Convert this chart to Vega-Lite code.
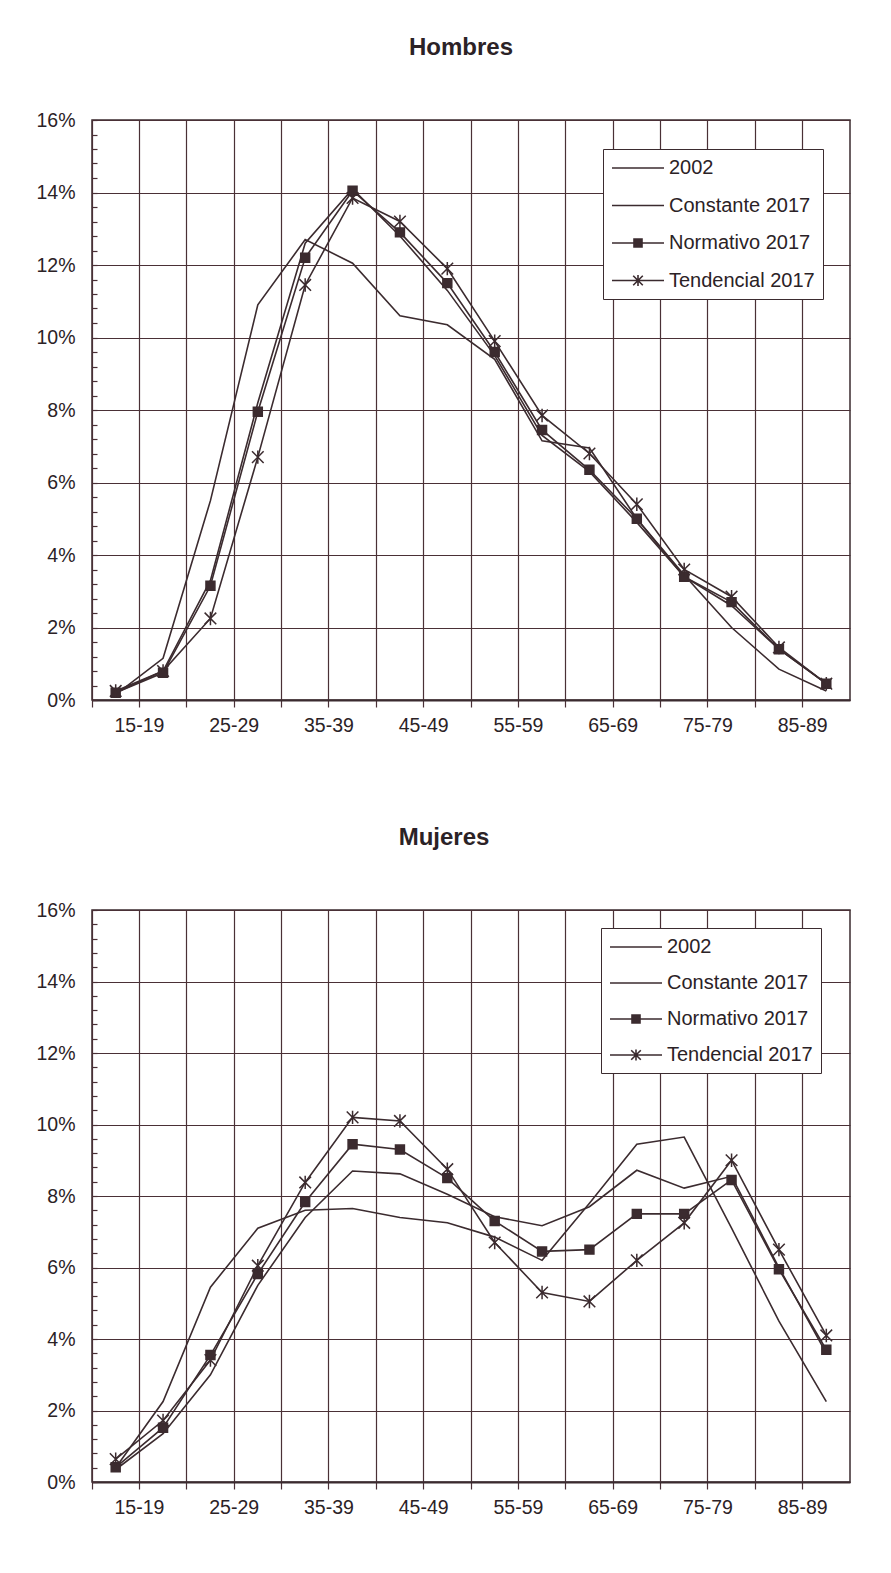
{
  "$schema": "https://vega.github.io/schema/vega-lite/v6.json",
  "background": "white",
  "padding": {"left": 35, "top": 35, "right": 10, "bottom": 10},
  "config": {
    "font": "Liberation Sans",
    "view": {"stroke": "#3b2b2f", "strokeWidth": 1.5},
    "axis": {"labelFont": "Liberation Sans", "labelFontSize": 19.5, "labelColor": "#2b2226", "title": null}
  },
  "data": {"values": [
    {"panel":"H","age":"15-19","series":"2002","pct":0.15},
    {"panel":"H","age":"20-24","series":"2002","pct":1.15},
    {"panel":"H","age":"25-29","series":"2002","pct":5.5},
    {"panel":"H","age":"30-34","series":"2002","pct":10.9},
    {"panel":"H","age":"35-39","series":"2002","pct":12.7},
    {"panel":"H","age":"40-44","series":"2002","pct":12.05},
    {"panel":"H","age":"45-49","series":"2002","pct":10.6},
    {"panel":"H","age":"50-54","series":"2002","pct":10.35},
    {"panel":"H","age":"55-59","series":"2002","pct":9.4},
    {"panel":"H","age":"60-64","series":"2002","pct":7.15},
    {"panel":"H","age":"65-69","series":"2002","pct":6.95},
    {"panel":"H","age":"70-74","series":"2002","pct":5.0},
    {"panel":"H","age":"75-79","series":"2002","pct":3.45},
    {"panel":"H","age":"80-84","series":"2002","pct":2.0},
    {"panel":"H","age":"85-89","series":"2002","pct":0.85},
    {"panel":"H","age":"90-94","series":"2002","pct":0.25},
    {"panel":"H","age":"15-19","series":"Constante 2017","pct":0.2},
    {"panel":"H","age":"20-24","series":"Constante 2017","pct":0.8},
    {"panel":"H","age":"25-29","series":"Constante 2017","pct":3.3},
    {"panel":"H","age":"30-34","series":"Constante 2017","pct":8.2},
    {"panel":"H","age":"35-39","series":"Constante 2017","pct":12.6},
    {"panel":"H","age":"40-44","series":"Constante 2017","pct":14.1},
    {"panel":"H","age":"45-49","series":"Constante 2017","pct":12.8},
    {"panel":"H","age":"50-54","series":"Constante 2017","pct":11.3},
    {"panel":"H","age":"55-59","series":"Constante 2017","pct":9.5},
    {"panel":"H","age":"60-64","series":"Constante 2017","pct":7.3},
    {"panel":"H","age":"65-69","series":"Constante 2017","pct":6.3},
    {"panel":"H","age":"70-74","series":"Constante 2017","pct":4.9},
    {"panel":"H","age":"75-79","series":"Constante 2017","pct":3.4},
    {"panel":"H","age":"80-84","series":"Constante 2017","pct":2.6},
    {"panel":"H","age":"85-89","series":"Constante 2017","pct":1.4},
    {"panel":"H","age":"90-94","series":"Constante 2017","pct":0.45},
    {"panel":"H","age":"15-19","series":"Normativo 2017","pct":0.2},
    {"panel":"H","age":"20-24","series":"Normativo 2017","pct":0.75},
    {"panel":"H","age":"25-29","series":"Normativo 2017","pct":3.15},
    {"panel":"H","age":"30-34","series":"Normativo 2017","pct":7.95},
    {"panel":"H","age":"35-39","series":"Normativo 2017","pct":12.2},
    {"panel":"H","age":"40-44","series":"Normativo 2017","pct":14.05},
    {"panel":"H","age":"45-49","series":"Normativo 2017","pct":12.9},
    {"panel":"H","age":"50-54","series":"Normativo 2017","pct":11.5},
    {"panel":"H","age":"55-59","series":"Normativo 2017","pct":9.6},
    {"panel":"H","age":"60-64","series":"Normativo 2017","pct":7.45},
    {"panel":"H","age":"65-69","series":"Normativo 2017","pct":6.35},
    {"panel":"H","age":"70-74","series":"Normativo 2017","pct":5.0},
    {"panel":"H","age":"75-79","series":"Normativo 2017","pct":3.4},
    {"panel":"H","age":"80-84","series":"Normativo 2017","pct":2.7},
    {"panel":"H","age":"85-89","series":"Normativo 2017","pct":1.4},
    {"panel":"H","age":"90-94","series":"Normativo 2017","pct":0.45},
    {"panel":"H","age":"15-19","series":"Tendencial 2017","pct":0.25},
    {"panel":"H","age":"20-24","series":"Tendencial 2017","pct":0.8},
    {"panel":"H","age":"25-29","series":"Tendencial 2017","pct":2.25},
    {"panel":"H","age":"30-34","series":"Tendencial 2017","pct":6.7},
    {"panel":"H","age":"35-39","series":"Tendencial 2017","pct":11.45},
    {"panel":"H","age":"40-44","series":"Tendencial 2017","pct":13.85},
    {"panel":"H","age":"45-49","series":"Tendencial 2017","pct":13.2},
    {"panel":"H","age":"50-54","series":"Tendencial 2017","pct":11.9},
    {"panel":"H","age":"55-59","series":"Tendencial 2017","pct":9.9},
    {"panel":"H","age":"60-64","series":"Tendencial 2017","pct":7.85},
    {"panel":"H","age":"65-69","series":"Tendencial 2017","pct":6.8},
    {"panel":"H","age":"70-74","series":"Tendencial 2017","pct":5.4},
    {"panel":"H","age":"75-79","series":"Tendencial 2017","pct":3.6},
    {"panel":"H","age":"80-84","series":"Tendencial 2017","pct":2.85},
    {"panel":"H","age":"85-89","series":"Tendencial 2017","pct":1.45},
    {"panel":"H","age":"90-94","series":"Tendencial 2017","pct":0.45},
    {"panel":"M","age":"15-19","series":"2002","pct":0.4},
    {"panel":"M","age":"20-24","series":"2002","pct":2.25},
    {"panel":"M","age":"25-29","series":"2002","pct":5.45},
    {"panel":"M","age":"30-34","series":"2002","pct":7.1},
    {"panel":"M","age":"35-39","series":"2002","pct":7.6},
    {"panel":"M","age":"40-44","series":"2002","pct":7.65},
    {"panel":"M","age":"45-49","series":"2002","pct":7.4},
    {"panel":"M","age":"50-54","series":"2002","pct":7.25},
    {"panel":"M","age":"55-59","series":"2002","pct":6.85},
    {"panel":"M","age":"60-64","series":"2002","pct":6.2},
    {"panel":"M","age":"65-69","series":"2002","pct":7.8},
    {"panel":"M","age":"70-74","series":"2002","pct":9.45},
    {"panel":"M","age":"75-79","series":"2002","pct":9.65},
    {"panel":"M","age":"80-84","series":"2002","pct":7.1},
    {"panel":"M","age":"85-89","series":"2002","pct":4.5},
    {"panel":"M","age":"90-94","series":"2002","pct":2.25},
    {"panel":"M","age":"15-19","series":"Constante 2017","pct":0.35},
    {"panel":"M","age":"20-24","series":"Constante 2017","pct":1.35},
    {"panel":"M","age":"25-29","series":"Constante 2017","pct":3.0},
    {"panel":"M","age":"30-34","series":"Constante 2017","pct":5.5},
    {"panel":"M","age":"35-39","series":"Constante 2017","pct":7.4},
    {"panel":"M","age":"40-44","series":"Constante 2017","pct":8.7},
    {"panel":"M","age":"45-49","series":"Constante 2017","pct":8.62},
    {"panel":"M","age":"50-54","series":"Constante 2017","pct":8.05},
    {"panel":"M","age":"55-59","series":"Constante 2017","pct":7.42},
    {"panel":"M","age":"60-64","series":"Constante 2017","pct":7.17},
    {"panel":"M","age":"65-69","series":"Constante 2017","pct":7.7},
    {"panel":"M","age":"70-74","series":"Constante 2017","pct":8.72},
    {"panel":"M","age":"75-79","series":"Constante 2017","pct":8.22},
    {"panel":"M","age":"80-84","series":"Constante 2017","pct":8.55},
    {"panel":"M","age":"85-89","series":"Constante 2017","pct":6.0},
    {"panel":"M","age":"90-94","series":"Constante 2017","pct":3.6},
    {"panel":"M","age":"15-19","series":"Normativo 2017","pct":0.41},
    {"panel":"M","age":"20-24","series":"Normativo 2017","pct":1.52},
    {"panel":"M","age":"25-29","series":"Normativo 2017","pct":3.55},
    {"panel":"M","age":"30-34","series":"Normativo 2017","pct":5.82},
    {"panel":"M","age":"35-39","series":"Normativo 2017","pct":7.83},
    {"panel":"M","age":"40-44","series":"Normativo 2017","pct":9.45},
    {"panel":"M","age":"45-49","series":"Normativo 2017","pct":9.3},
    {"panel":"M","age":"50-54","series":"Normativo 2017","pct":8.5},
    {"panel":"M","age":"55-59","series":"Normativo 2017","pct":7.3},
    {"panel":"M","age":"60-64","series":"Normativo 2017","pct":6.45},
    {"panel":"M","age":"65-69","series":"Normativo 2017","pct":6.5},
    {"panel":"M","age":"70-74","series":"Normativo 2017","pct":7.5},
    {"panel":"M","age":"75-79","series":"Normativo 2017","pct":7.5},
    {"panel":"M","age":"80-84","series":"Normativo 2017","pct":8.45},
    {"panel":"M","age":"85-89","series":"Normativo 2017","pct":5.95},
    {"panel":"M","age":"90-94","series":"Normativo 2017","pct":3.7},
    {"panel":"M","age":"15-19","series":"Tendencial 2017","pct":0.64},
    {"panel":"M","age":"20-24","series":"Tendencial 2017","pct":1.72},
    {"panel":"M","age":"25-29","series":"Tendencial 2017","pct":3.41},
    {"panel":"M","age":"30-34","series":"Tendencial 2017","pct":6.05},
    {"panel":"M","age":"35-39","series":"Tendencial 2017","pct":8.38},
    {"panel":"M","age":"40-44","series":"Tendencial 2017","pct":10.2},
    {"panel":"M","age":"45-49","series":"Tendencial 2017","pct":10.1},
    {"panel":"M","age":"50-54","series":"Tendencial 2017","pct":8.75},
    {"panel":"M","age":"55-59","series":"Tendencial 2017","pct":6.7},
    {"panel":"M","age":"60-64","series":"Tendencial 2017","pct":5.3},
    {"panel":"M","age":"65-69","series":"Tendencial 2017","pct":5.05},
    {"panel":"M","age":"70-74","series":"Tendencial 2017","pct":6.2},
    {"panel":"M","age":"75-79","series":"Tendencial 2017","pct":7.25},
    {"panel":"M","age":"80-84","series":"Tendencial 2017","pct":9.0},
    {"panel":"M","age":"85-89","series":"Tendencial 2017","pct":6.5},
    {"panel":"M","age":"90-94","series":"Tendencial 2017","pct":4.1}
  ]},
  "spacing": 89,
  "vconcat": [
    {
      "width": 758,
      "height": 580,
      "title": {"text": "Hombres", "fontSize": 24, "fontWeight": "bold", "font": "Liberation Sans", "color": "#2b2226", "offset": 50, "dx": -10},
      "transform": [{"filter": "datum.panel === 'H'"}],
      "encoding": {
        "x": {
          "field": "age", "type": "nominal", "bandPosition": 0.5,
          "scale": {"type": "band", "paddingInner": 0, "paddingOuter": 0, "domain": ["15-19","20-24","25-29","30-34","35-39","40-44","45-49","50-54","55-59","60-64","65-69","70-74","75-79","80-84","85-89","90-94"]},
          "axis": {"bandPosition": 0, "grid": true, "gridColor": "#4a3036", "gridOpacity": 1, "gridWidth": 1.2, "ticks": true, "tickSize": 7, "tickColor": "#4a3036", "tickWidth": 1.2, "domainColor": "#3b2b2f", "domainWidth": 2, "labelAngle": 0, "labelOffset": 23.7, "labelPadding": 9, "labelBound": false, "labelOverlap": false, "labelExpr": "toNumber(slice(datum.label,0,2)) % 10 === 5 ? datum.label : ''"}
        },
        "y": {
          "field": "pct", "type": "quantitative",
          "scale": {"domain": [0, 16], "nice": false},
          "axis": {"values": [0,0.4,0.8,1.2,1.6,2,2.4,2.8,3.2,3.6,4,4.4,4.8,5.2,5.6,6,6.4,6.8,7.2,7.6,8,8.4,8.8,9.2,9.6,10,10.4,10.8,11.2,11.6,12,12.4,12.8,13.2,13.6,14,14.4,14.8,15.2,15.6,16],
            "domain": false, "grid": true, "gridColor": "#4a3036", "gridWidth": 1.2,
            "gridOpacity": {"condition": {"test": "round(datum.value*10) % 20 === 0", "value": 1}, "value": 0},
            "ticks": true, "tickSize": -5, "tickColor": "#4a3036", "tickWidth": 1.2,
            "labelPadding": 22, "labelOverlap": false,
            "labelExpr": "round(datum.value*10) % 20 === 0 ? datum.value + '%' : ''"}
        }
      },
      "layer": [
        {
          "mark": {"type": "line", "strokeWidth": 1.6},
          "encoding": {
            "color": {"field": "series", "type": "nominal",
              "scale": {"domain": ["2002","Constante 2017","Normativo 2017","Tendencial 2017"], "range": ["#3b2b2f","#3b2b2f","#3b2b2f","#3b2b2f"]},
              "legend": {"title": null, "orient": "none", "legendX": 511, "legendY": 29, "strokeColor": "#3b2b2f", "fillColor": "white", "padding": 8, "labelFontSize": 20, "labelFont": "Liberation Sans", "labelColor": "#2b2226", "labelOffset": 20, "symbolOffset": 16, "symbolSize": 400, "symbolStrokeWidth": 1.6, "rowPadding": 16.5,
                "encode": {"symbols": {"update": {
                  "shape": {"signal": "datum.value === 'Normativo 2017' ? 'M-2.6,0H2.6M-0.4,-0.4H0.4V0.4H-0.4Z' : (datum.value === 'Tendencial 2017' ? 'M-2.6,0H2.6M-0.48,-0.48L0.48,0.48M-0.48,0.48L0.48,-0.48M0,-0.55L0,0.55' : 'M-2.6,0H2.6')"},
                  "fill": {"value": "#3b2b2f"}, "stroke": {"value": "#3b2b2f"}, "strokeWidth": {"value": 1.6}, "opacity": {"value": 1}}}}}
            }
          }
        },
        {
          "transform": [{"filter": "datum.series === 'Normativo 2017' || datum.series === 'Tendencial 2017'"}],
          "mark": {"type": "point", "filled": true, "fill": "#3b2b2f", "stroke": "#3b2b2f", "strokeWidth": 1.5, "opacity": 1, "size": 80},
          "encoding": {
            "shape": {"field": "series", "type": "nominal",
              "scale": {"domain": ["Normativo 2017","Tendencial 2017"], "range": ["M-1,-1H1V1H-1Z", "M-1.3,-1.3L1.3,1.3M-1.3,1.3L1.3,-1.3M0,-1.5L0,1.5"]},
              "legend": null}
          }
        }
      ]
    },
    {
      "width": 758,
      "height": 572,
      "title": {"text": "Mujeres", "fontSize": 24, "fontWeight": "bold", "font": "Liberation Sans", "color": "#2b2226", "offset": 50, "dx": -27},
      "transform": [{"filter": "datum.panel === 'M'"}],
      "encoding": {
        "x": {
          "field": "age", "type": "nominal", "bandPosition": 0.5,
          "scale": {"type": "band", "paddingInner": 0, "paddingOuter": 0, "domain": ["15-19","20-24","25-29","30-34","35-39","40-44","45-49","50-54","55-59","60-64","65-69","70-74","75-79","80-84","85-89","90-94"]},
          "axis": {"bandPosition": 0, "grid": true, "gridColor": "#4a3036", "gridOpacity": 1, "gridWidth": 1.2, "ticks": true, "tickSize": 7, "tickColor": "#4a3036", "tickWidth": 1.2, "domainColor": "#3b2b2f", "domainWidth": 2, "labelAngle": 0, "labelOffset": 23.7, "labelPadding": 9, "labelBound": false, "labelOverlap": false, "labelExpr": "toNumber(slice(datum.label,0,2)) % 10 === 5 ? datum.label : ''"}
        },
        "y": {
          "field": "pct", "type": "quantitative",
          "scale": {"domain": [0, 16], "nice": false},
          "axis": {"values": [0,0.4,0.8,1.2,1.6,2,2.4,2.8,3.2,3.6,4,4.4,4.8,5.2,5.6,6,6.4,6.8,7.2,7.6,8,8.4,8.8,9.2,9.6,10,10.4,10.8,11.2,11.6,12,12.4,12.8,13.2,13.6,14,14.4,14.8,15.2,15.6,16],
            "domain": false, "grid": true, "gridColor": "#4a3036", "gridWidth": 1.2,
            "gridOpacity": {"condition": {"test": "round(datum.value*10) % 20 === 0", "value": 1}, "value": 0},
            "ticks": true, "tickSize": -5, "tickColor": "#4a3036", "tickWidth": 1.2,
            "labelPadding": 22, "labelOverlap": false,
            "labelExpr": "round(datum.value*10) % 20 === 0 ? datum.value + '%' : ''"}
        }
      },
      "layer": [
        {
          "mark": {"type": "line", "strokeWidth": 1.6},
          "encoding": {
            "color": {"field": "series", "type": "nominal",
              "scale": {"domain": ["2002","Constante 2017","Normativo 2017","Tendencial 2017"], "range": ["#3b2b2f","#3b2b2f","#3b2b2f","#3b2b2f"]},
              "legend": {"title": null, "orient": "none", "legendX": 509, "legendY": 18, "strokeColor": "#3b2b2f", "fillColor": "white", "padding": 8, "labelFontSize": 20, "labelFont": "Liberation Sans", "labelColor": "#2b2226", "labelOffset": 20, "symbolOffset": 16, "symbolSize": 400, "symbolStrokeWidth": 1.6, "rowPadding": 15,
                "encode": {"symbols": {"update": {
                  "shape": {"signal": "datum.value === 'Normativo 2017' ? 'M-2.6,0H2.6M-0.4,-0.4H0.4V0.4H-0.4Z' : (datum.value === 'Tendencial 2017' ? 'M-2.6,0H2.6M-0.48,-0.48L0.48,0.48M-0.48,0.48L0.48,-0.48M0,-0.55L0,0.55' : 'M-2.6,0H2.6')"},
                  "fill": {"value": "#3b2b2f"}, "stroke": {"value": "#3b2b2f"}, "strokeWidth": {"value": 1.6}, "opacity": {"value": 1}}}}}
            }
          }
        },
        {
          "transform": [{"filter": "datum.series === 'Normativo 2017' || datum.series === 'Tendencial 2017'"}],
          "mark": {"type": "point", "filled": true, "fill": "#3b2b2f", "stroke": "#3b2b2f", "strokeWidth": 1.5, "opacity": 1, "size": 80},
          "encoding": {
            "shape": {"field": "series", "type": "nominal",
              "scale": {"domain": ["Normativo 2017","Tendencial 2017"], "range": ["M-1,-1H1V1H-1Z", "M-1.3,-1.3L1.3,1.3M-1.3,1.3L1.3,-1.3M0,-1.5L0,1.5"]},
              "legend": null}
          }
        }
      ]
    }
  ],
  "resolve": {"scale": {"color": "independent", "shape": "independent"}, "legend": {"color": "independent"}}
}
